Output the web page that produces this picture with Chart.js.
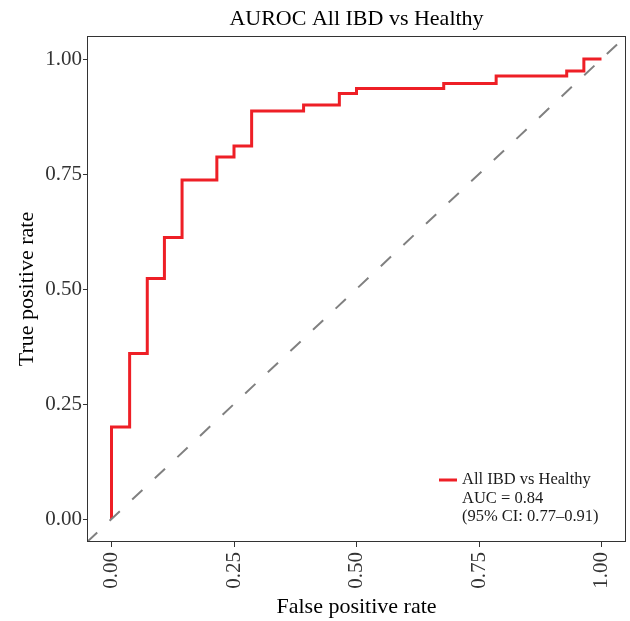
<!DOCTYPE html>
<html>
<head>
<meta charset="utf-8">
<script src="https://cdn.jsdelivr.net/npm/chart.js@4.4.1/dist/chart.umd.min.js"></script>
<style>
  html, body { margin: 0; padding: 0; background: #ffffff; }
  #wrap { width: 630px; height: 621px; }
</style>
</head>
<body>
<div id="wrap"><canvas id="c" width="630" height="621"></canvas></div>
<script>
// ---- data ----
const chartTitle = "AUROC All IBD vs Healthy";
const seriesName = "All IBD vs Healthy";
const legendExtra = ["AUC = 0.84", "(95% CI: 0.77\u20130.91)"];
// ROC corner points (step drawn vertical-then-horizontal)
const fpr = [0, 0.037, 0.073, 0.108, 0.144, 0.215, 0.25, 0.286, 0.392, 0.465, 0.5, 0.678, 0.785, 0.929, 0.964, 1.0];
const tpr = [0, 0.200, 0.360, 0.523, 0.612, 0.737, 0.787, 0.811, 0.887, 0.900, 0.925, 0.936, 0.947, 0.963, 0.974, 1.0];
const tickValues = [0, 0.25, 0.5, 0.75, 1.0];
const axisMin = -0.05, axisMax = 1.05;
const xTitle = "False positive rate";
const yTitle = "True positive rate";

const FONT = "'Liberation Serif', 'Times New Roman', serif";
const rocPoints = fpr.map((v, i) => ({ x: v, y: tpr[i] }));
const diagPoints = [{ x: axisMin, y: axisMin }, { x: axisMax, y: axisMax }];

const frameAndLegend = {
  id: 'frameAndLegend',
  afterDatasetsDraw(chart) {
    const { ctx, chartArea: a } = chart;
    ctx.save();
    ctx.strokeStyle = '#333333';
    ctx.lineWidth = 1;
    ctx.strokeRect(Math.round(a.left) + 0.5, Math.round(a.top) + 0.5,
                   Math.round(a.right - a.left) - 1, Math.round(a.bottom - a.top) - 1);
    // legend
    const lx = a.right - 187, ly = a.bottom - 62;
    ctx.strokeStyle = '#EE1F26';
    ctx.lineWidth = 3;
    ctx.beginPath();
    ctx.moveTo(lx, ly);
    ctx.lineTo(lx + 18, ly);
    ctx.stroke();
    ctx.fillStyle = '#1a1a1a';
    ctx.font = "16.5px " + FONT;
    ctx.textBaseline = 'middle';
    ctx.textAlign = 'left';
    const lines = [seriesName].concat(legendExtra);
    lines.forEach((t, i) => ctx.fillText(t, lx + 23, ly + i * 18.5));
    ctx.restore();
  }
};

new Chart(document.getElementById('c'), {
  type: 'scatter',
  data: {
    datasets: [
      {
        label: 'diagonal',
        data: diagPoints,
        showLine: true,
        borderColor: '#808080',
        borderWidth: 2,
        borderDash: [14, 17],
        pointRadius: 0,
        fill: false
      },
      {
        label: seriesName,
        data: rocPoints,
        showLine: true,
        stepped: 'after',
        borderColor: '#EE1F26',
        borderWidth: 3,
        pointRadius: 0,
        fill: false
      }
    ]
  },
  options: {
    responsive: false,
    animation: false,
    layout: { padding: { left: 0, right: 4, top: 0, bottom: 0 } },
    plugins: {
      legend: { display: false },
      tooltip: { enabled: false },
      title: {
        display: true,
        text: chartTitle,
        fullSize: false,
        color: '#000000',
        font: { family: FONT, size: 22, weight: 'normal', lineHeight: '24px' },
        padding: { top: 7, bottom: 5 }
      }
    },
    scales: {
      x: {
        type: 'linear',
        min: axisMin, max: axisMax,
        afterBuildTicks: s => { s.ticks = tickValues.map(v => ({ value: v })); },
        afterFit: s => { s.height = 79; s.paddingRight = 0; s.paddingLeft = 0; },
        grid: { drawOnChartArea: false, drawTicks: true, tickLength: 5, color: '#333333' },
        border: { display: false },
        ticks: {
          minRotation: 90, maxRotation: 90, padding: 5,
          color: '#333333',
          font: { family: FONT, size: 21, lineHeight: 1.0 },
          callback: v => v.toFixed(2)
        },
        title: {
          display: true, text: xTitle, color: '#000000',
          font: { family: FONT, size: 22 },
          padding: { top: 0, bottom: 1 }
        }
      },
      y: {
        type: 'linear',
        min: axisMin, max: axisMax,
        afterBuildTicks: s => { s.ticks = tickValues.map(v => ({ value: v })); },
        afterFit: s => { s.width = 87; s.paddingTop = 0; s.paddingBottom = 0; },
        grid: { drawOnChartArea: false, drawTicks: true, tickLength: 4, color: '#333333' },
        border: { display: false },
        ticks: {
          padding: 1,
          color: '#333333',
          font: { family: FONT, size: 21 },
          callback: v => v.toFixed(2)
        },
        title: {
          display: true, text: yTitle, color: '#000000',
          font: { family: FONT, size: 22 },
          padding: { top: 14, bottom: 0 }
        }
      }
    }
  },
  plugins: [frameAndLegend]
});
</script>
</body>
</html>
